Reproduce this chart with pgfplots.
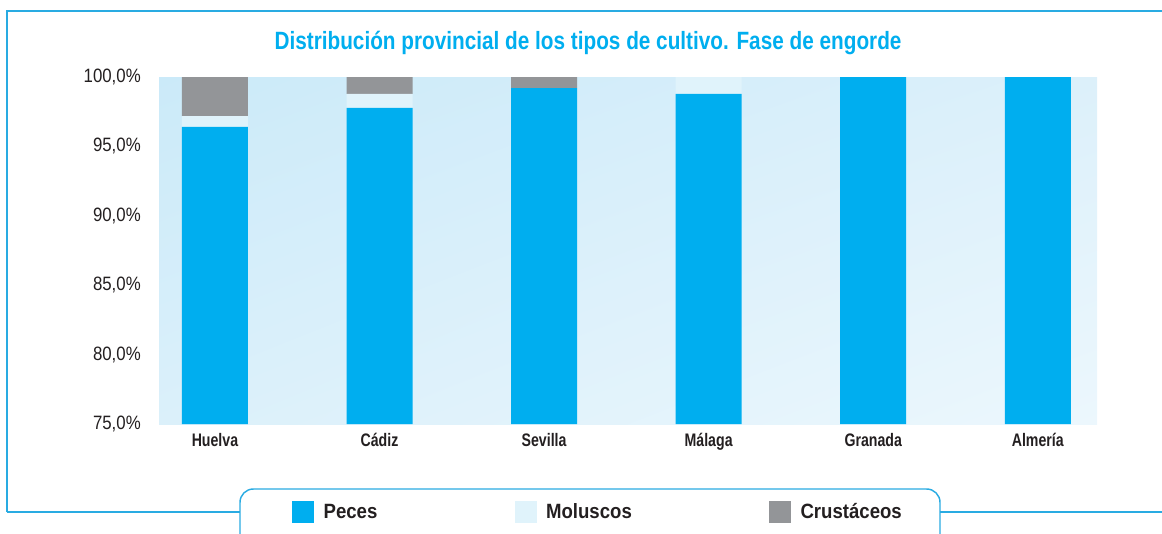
\documentclass[border=0pt]{standalone}
\usepackage{pgfplots}
\pgfplotsset{compat=1.18}
\usetikzlibrary{shadings}
\usepackage{fontspec}
\setmainfont{Liberation Sans}
\newfontfamily\condb[FakeStretch=0.78]{Liberation Sans}
\newfontfamily\legf[FakeStretch=0.9]{Liberation Sans}
\newfontfamily\titlef[FakeStretch=0.83]{Liberation Sans}
\newfontfamily\tickf[FakeStretch=0.87]{Liberation Sans}
\definecolor{peces}{HTML}{00AEEF}
\definecolor{moluscos}{HTML}{E0F3FB}
\definecolor{crust}{HTML}{939598}
\definecolor{frame}{HTML}{29ABE2}
\definecolor{txt}{HTML}{231F20}
\definecolor{bgUL}{HTML}{CBEAF9}
\definecolor{bgUR}{HTML}{DCF0FA}
\definecolor{bgLL}{HTML}{DBF0FA}
\definecolor{bgLR}{HTML}{ECF7FD}
\begin{document}
\begin{tikzpicture}
\begin{axis}[
  at={(119.25pt,81.75pt)}, anchor=south west,
  scale only axis, width=703.5pt, height=260.25pt,
  xmin=-0.34, xmax=5.36, ymin=75, ymax=100,
  ybar stacked, bar width=49.5pt,
  axis line style={draw=none}, major tick length=0pt,
  axis background/.style={upper left=bgUL, upper right=bgUR, lower left=bgLL, lower right=bgLR},
  xtick={0,1,2,3,4,5},
  xticklabels={Huelva,Cádiz,Sevilla,Málaga,Granada,Almería},
  xticklabel style={anchor=north, inner sep=0pt, yshift=-6.5pt, font=\condb\bfseries\fontsize{13.6pt}{15pt}\selectfont, text=txt},
  ytick={75,80,85,90,95,100},
  yticklabels={{75,0\%},{80,0\%},{85,0\%},{90,0\%},{95,0\%},{100,0\%}},
  yticklabel style={anchor=east, inner sep=0pt, xshift=-13.5pt, font=\tickf\fontsize{14.5pt}{16pt}\selectfont, text=txt},
  legend columns=3,
  legend style={at={(0.1418,-0.2536)}, anchor=west, draw=none, fill=none, inner sep=0pt,
    font=\legf\bfseries\fontsize{15.5pt}{17pt}\selectfont, text=txt,
    /tikz/every odd column/.append style={column sep=5pt},
    /tikz/every even column/.append style={column sep=101pt}},
  legend image code/.code={\fill[#1] (0pt,-8.6pt) rectangle (16.5pt,8.6pt);},
]
\addplot[fill=peces, draw=none] coordinates {(0,96.4) (1,97.77) (2,99.2) (3,98.78) (4,100) (5,100)};
\addplot[fill=moluscos, draw=none] coordinates {(0,0.79) (1,1.01) (2,0) (3,1.22) (4,0) (5,0)};
\addplot[fill=crust, draw=none] coordinates {(0,2.81) (1,1.22) (2,0.8) (3,0) (4,0) (5,0)};
\legend{Peces,Moluscos,Crustáceos}
\end{axis}
\node[text=peces, font=\titlef\bfseries\fontsize{18.75pt}{21pt}\selectfont] at (441pt,367.5pt) {Distribución provincial de los tipos de cultivo. Fase de engorde};
\draw[frame, line width=1.1pt] (5.25pt,15.75pt) -- (5.25pt,391.5pt) -- (872pt,391.5pt);
\draw[frame, line width=1.1pt] (5.25pt,15.75pt) -- (180pt,15.75pt);
\draw[frame, line width=1.1pt] (705pt,15.75pt) -- (872pt,15.75pt);
\draw[frame, line width=1.1pt, rounded corners=10pt] (180pt,-20pt) -- (180pt,33pt) -- (705pt,33pt) -- (705pt,-20pt);
\pgfresetboundingbox
\path[use as bounding box] (0,0) rectangle (871.5pt,399.75pt);
\end{tikzpicture}
\end{document}
